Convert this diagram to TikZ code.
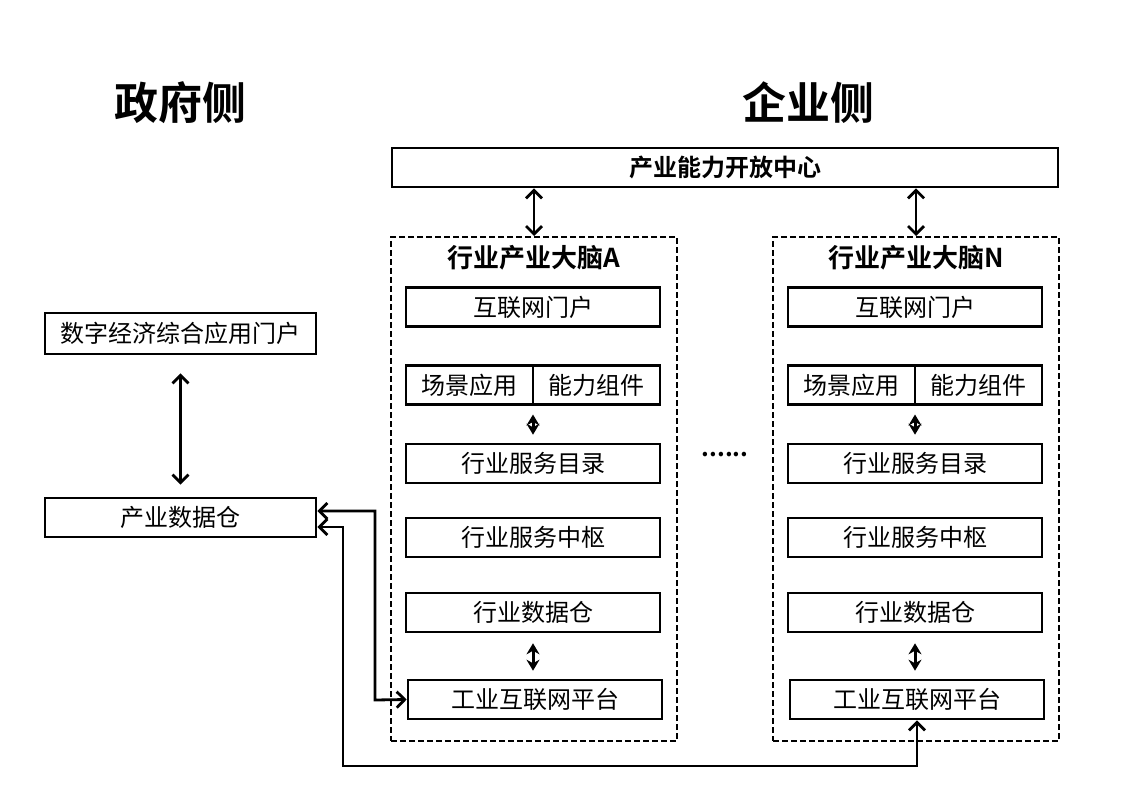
\documentclass[tikz,border=0pt]{standalone}
\usepackage{fontspec}
\setmainfont{Noto Sans CJK SC}[BoldFont={Noto Sans CJK SC Bold}]
\usetikzlibrary{arrows.meta}

\begin{document}
\begin{tikzpicture}
  [x=1pt,y=-1pt,
   every node/.style={inner sep=0pt,font=\fontsize{24}{28}\selectfont},
   box/.style={draw,line width=2.6pt,minimum width=254pt,minimum height=39pt},
   half/.style={box,outer sep=0pt,minimum width=127pt},
   brain/.style={draw,dash pattern=on 6pt off 3pt,line width=2pt,minimum width=286pt,minimum height=504pt},
   title/.style={font=\bfseries\fontsize{44}{50}\selectfont},
   dbl/.style={{Straight Barb[length=8pt,width=16pt]}-{Straight Barb[length=8pt,width=16pt]},line width=2.8pt},
   tiny/.style={{Stealth[length=11pt,width=13pt]}-{Stealth[length=11pt,width=13pt]},line width=3pt}]

  \useasboundingbox (0,0) rectangle (1140,791);

  \node[title] (gov) at (180,103) {政府侧};
  \node[title] (ent) at (808,103) {企业侧};

  \node[box,minimum width=666pt,font=\bfseries\fontsize{24}{28}\selectfont] (open) at (725,167.5) {产业能力开放中心};

  \node[box,minimum width=271pt,minimum height=41pt] (portal) at (180.5,333.5) {数字经济综合应用门户};
  \node[box,minimum width=271pt] (dwh) at (180.5,517.5) {产业数据仓};
  \draw[dbl,shorten <=18pt,shorten >=12pt] (portal) -- (dwh);

  \foreach \c/\x in {A/534,N/916} {
    \node[brain] (brain\c) at (\x,489) {};
    \node[font=\bfseries\fontsize{26}{30}\selectfont] (head\c) at (\x,258) {行业产业大脑\c};
    \node[box] (web\c) at (\x-1,307) {互联网门户};
    \node[half,anchor=east] (app\c) at (\x-1,385) {场景应用};
    \node[half,anchor=west] (cap\c) at (\x-1,385) {能力组件};
    \node[box] (cat\c) at (\x-1,463.5) {行业服务目录};
    \node[box] (hub\c) at (\x-1,537.5) {行业服务中枢};
    \node[box] (data\c) at (\x-1,612.5) {行业数据仓};
    \node[box] (iip\c) at (\x+1,699.5) {工业互联网平台};
    \draw[dbl] (open.south -| brain\c.north) -- (brain\c.north);
    \draw[tiny,shorten <=10pt,shorten >=8pt] (app\c.south east) -- (cat\c.north);
    \draw[tiny,shorten <=10pt,shorten >=8pt] (data\c.south) -- (data\c.south |- iip\c.north);
  }

  \node[font=\bfseries\fontsize{24}{28}\selectfont] (dots) at (725,455) {......};

  % links from the data warehouse to both platforms
  \coordinate (bend1) at (375,700);
  \coordinate (bend2) at (343,766);
  \draw[dbl] ([yshift=6.5pt]dwh.east) -| (bend1) -- (iipA.west);
  \draw[dbl] ([yshift=-9.5pt]dwh.east) -| (bend2) -| (iipN.south);

\end{tikzpicture}
\end{document}
